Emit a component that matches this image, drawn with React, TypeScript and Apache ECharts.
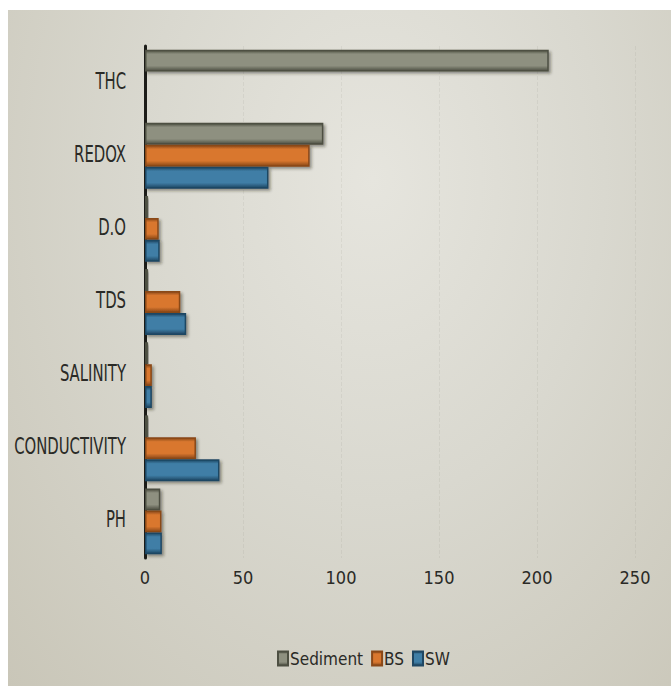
import React, { useEffect, useRef } from "react";
import * as echarts from "echarts";

// Water / sediment quality parameters, listed top to bottom
const categories = ["THC", "REDOX", "D.O", "TDS", "SALINITY", "CONDUCTIVITY", "PH"];

const sediment = [206, 91, 1.5, 1.5, 1.5, 1.5, 7.8];
const bs = [0, 84, 7, 18, 3.5, 26, 8.4];
const sw = [0, 63, 7.5, 21, 3.5, 38, 8.6];

const xTicks = [0, 50, 100, 150, 200, 250];

const FONT = "'DejaVu Sans Condensed', 'Liberation Sans Narrow', sans-serif";
const INK = "#2a2a26";

export default function App() {
  const ref = useRef<HTMLDivElement>(null);

  useEffect(() => {
    if (!ref.current) return;
    const chart = echarts.init(ref.current, null, { renderer: "svg" });

    const barSeries = (name: string, data: number[], color: string, edge: string) => ({
      name,
      type: "bar",
      data,
      barGap: "0%",
      barCategoryGap: "10%",
      itemStyle: {
        color: new echarts.graphic.LinearGradient(0, 0, 0, 1, [
          { offset: 0, color: edge },
          { offset: 0.18, color },
          { offset: 0.75, color },
          { offset: 1, color: edge },
        ]),
        borderColor: edge,
        borderWidth: 1.5,
        shadowColor: "rgba(40,40,30,0.45)",
        shadowBlur: 3,
        shadowOffsetX: 2,
        shadowOffsetY: 2,
      },
    });

    chart.setOption({
      animation: false,
      backgroundColor: "transparent",
      grid: { left: 145, top: 46, width: 490, height: 512, outerBoundsMode: "none" },
      legend: {
        bottom: 14,
        left: 272,
        itemWidth: 10,
        itemHeight: 14,
        itemGap: 8,
        icon: "rect",
        textStyle: { fontFamily: FONT, fontSize: 17, color: INK, padding: [0, 0, 0, -3] },
        data: ["Sediment", "BS", "SW"],
      },
      xAxis: {
        type: "value",
        min: xTicks[0],
        max: xTicks[xTicks.length - 1],
        interval: 50,
        axisLine: { show: false },
        axisTick: { show: false },
        splitLine: { show: true, lineStyle: { color: "rgba(90,90,80,0.08)", type: "dashed", width: 1 } },
        axisLabel: { margin: 10, fontFamily: FONT, fontSize: 18, color: INK },
      },
      yAxis: {
        type: "category",
        data: categories,
        inverse: true,
        axisLine: { show: true, lineStyle: { color: "#1c1c18", width: 3 } },
        axisTick: { show: false },
        splitLine: { show: false },
        axisLabel: { show: false },
      },
      series: [
        barSeries("Sediment", sediment, "#8e9080", "#4d4f42"),
        barSeries("BS", bs, "#d9772f", "#8a4818"),
        barSeries("SW", sw, "#3f7ea6", "#1f4763"),
      ],
      color: ["#8e9080", "#d9772f", "#3f7ea6"],
    });

    // Tall, narrow category labels placed at the category axis positions
    const labelRight = 126;
    chart.setOption({
      graphic: categories.map((c) => {
        const y = chart.convertToPixel({ yAxisIndex: 0 }, c) as number;
        return {
          type: "text",
          x: labelRight,
          y: y - 2,
          scaleX: 1,
          scaleY: 1.4,
          style: {
            text: c,
            fontFamily: FONT,
            fontSize: 16.5,
            fill: INK,
            align: "right",
            verticalAlign: "middle",
          },
        };
      }),
    });

    return () => chart.dispose();
  }, []);

  return (
    <div
      style={{
        position: "fixed",
        left: 0,
        top: 0,
        width: 671,
        height: 686,
        background: "#ffffff",
      }}
    >
      <div
        style={{
          position: "absolute",
          left: 8,
          top: 10,
          right: 0,
          bottom: 0,
          background:
            "radial-gradient(ellipse at 55% 25%, #e6e5de 0%, #d9d8cf 45%, #c9c6b8 100%)",
        }}
      />
      <div ref={ref} style={{ position: "absolute", left: 0, top: 0, width: 671, height: 686 }} />
    </div>
  );
}
